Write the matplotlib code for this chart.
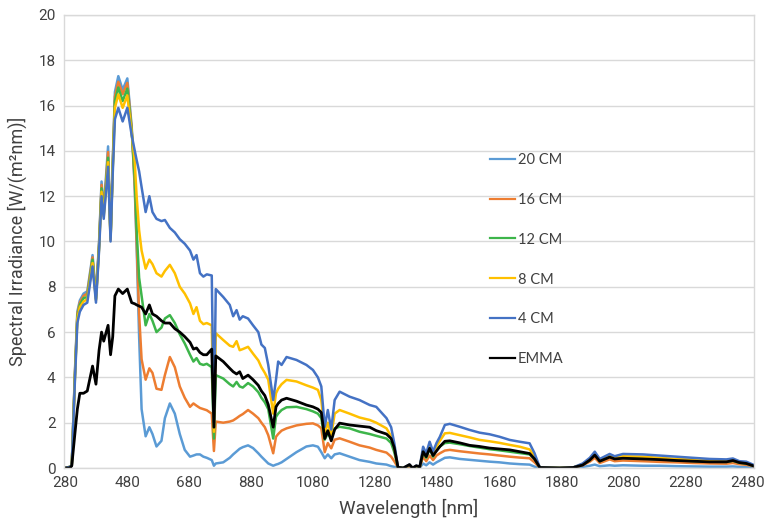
import matplotlib
matplotlib.use("Agg")
import matplotlib.pyplot as plt
from matplotlib import font_manager as fm

wavelength = [280, 296, 302, 312, 320, 328, 340, 352, 369, 380,
              390, 398, 405, 419, 427, 434, 441, 452, 466, 481,
              495, 505, 511, 519, 527, 540, 552, 562, 575, 591,
              602, 618, 634, 650, 666, 683, 694, 704, 715, 726,
              737, 753, 760, 766, 790, 811, 822, 833, 843, 853,
              870, 886, 903, 913, 924, 935, 951, 960, 967, 978,
              994, 1026, 1058, 1079, 1095, 1106, 1117, 1127, 1138, 1149,
              1165, 1197, 1229, 1262, 1283, 1316, 1331, 1341, 1353, 1370,
              1390, 1400, 1412, 1423, 1434, 1444, 1455, 1466, 1477, 1488,
              1504, 1520, 1552, 1584, 1616, 1648, 1680, 1713, 1745, 1777,
              1793, 1810, 1874, 1917, 1948, 1971, 1987, 2003, 2035, 2051,
              2078, 2142, 2196, 2250, 2303, 2357, 2411, 2432, 2453, 2475,
              2497]

cm20 = [0, 0.05, 0.1, 4.2, 6.9, 7.4, 7.7, 7.8, 9.4, 7.6,
        10.0, 12.65, 11.4, 14.2, 10.2, 13.5, 16.6, 17.3, 16.7, 17.2,
        15.1, 12.3, 9.8, 5.8, 2.6, 1.4, 1.8, 1.5, 0.95, 1.2,
        2.2, 2.85, 2.4, 1.5, 0.8, 0.5, 0.55, 0.6, 0.6, 0.5,
        0.45, 0.35, 0.1, 0.2, 0.25, 0.45, 0.6, 0.73, 0.85, 0.92,
        1.0, 0.88, 0.65, 0.5, 0.35, 0.2, 0.1, 0.15, 0.18, 0.25,
        0.4, 0.7, 0.95, 1.0, 0.94, 0.7, 0.43, 0.6, 0.43, 0.6,
        0.65, 0.5, 0.35, 0.27, 0.2, 0.15, 0.08, 0.05, 0.01, 0.0,
        0.05, 0.0, 0.03, 0.01, 0.2, 0.12, 0.25, 0.15, 0.25, 0.33,
        0.45, 0.47, 0.4, 0.36, 0.32, 0.28, 0.25, 0.2, 0.17, 0.15,
        0.06, 0.0, 0.0, 0.0, 0.05, 0.1, 0.15, 0.08, 0.12, 0.1,
        0.12, 0.1, 0.1, 0.08, 0.07, 0.06, 0.06, 0.07, 0.05, 0.04,
        0.03]

cm16 = [0, 0.05, 0.1, 4.1, 6.8, 7.3, 7.6, 7.7, 9.3, 7.5,
        9.9, 12.5, 11.3, 13.95, 10.15, 13.4, 16.4, 17.05, 16.5, 17.0,
        15.0, 12.5, 10.0, 6.8, 4.8, 3.9, 4.4, 4.2, 3.5, 3.45,
        4.1, 4.9, 4.45, 3.6, 3.1, 2.7, 2.85, 2.75, 2.65, 2.6,
        2.55, 2.4, 0.75, 2.05, 2.0, 2.05, 2.1, 2.2, 2.3, 2.38,
        2.56, 2.4, 2.2, 2.0, 1.8, 1.45, 0.65, 1.38, 1.5, 1.65,
        1.75, 1.88, 1.95, 1.97, 1.88, 1.75, 0.7, 1.1, 0.87, 1.25,
        1.31, 1.16, 1.0, 0.9, 0.8, 0.68, 0.5, 0.3, 0.02, 0.0,
        0.08, 0.0, 0.05, 0.02, 0.5, 0.3, 0.55, 0.35, 0.55, 0.65,
        0.77, 0.8, 0.74, 0.69, 0.64, 0.6, 0.55, 0.5, 0.46, 0.43,
        0.25, 0.01, 0.0, 0.01, 0.12, 0.28, 0.45, 0.22, 0.38, 0.3,
        0.33, 0.3, 0.27, 0.25, 0.22, 0.2, 0.19, 0.22, 0.17, 0.14,
        0.08]

cm12 = [0, 0.05, 0.1, 4.0, 6.7, 7.2, 7.5, 7.55, 9.2, 7.45,
        9.8, 12.35, 11.2, 13.7, 10.1, 13.3, 16.2, 16.8, 16.2, 16.75,
        14.9, 12.8, 10.5, 8.4, 7.6, 6.3, 6.8, 6.5, 6.0, 6.2,
        6.6, 6.75, 6.4, 5.9, 5.5, 5.0, 4.7, 4.85, 4.6, 4.55,
        4.6, 4.45, 1.3, 4.1, 3.95, 3.7, 3.6, 3.8, 3.6, 3.55,
        3.75, 3.6, 3.35, 3.1, 2.9, 2.6, 1.3, 2.26, 2.4, 2.56,
        2.68, 2.7, 2.6, 2.5, 2.4, 2.2, 1.25, 1.53, 1.3, 1.75,
        1.82, 1.75, 1.6, 1.5, 1.42, 1.3, 1.1, 0.7, 0.03, 0.0,
        0.12, 0.0, 0.07, 0.03, 0.7, 0.45, 0.85, 0.5, 0.8, 0.95,
        1.1, 1.12, 1.05, 0.97, 0.9, 0.83, 0.78, 0.72, 0.66, 0.6,
        0.4, 0.02, 0.0, 0.02, 0.15, 0.35, 0.6, 0.3, 0.5, 0.42,
        0.45, 0.42, 0.38, 0.34, 0.31, 0.28, 0.27, 0.32, 0.23, 0.2,
        0.1]

cm8 = [0, 0.05, 0.1, 3.9, 6.6, 7.1, 7.35, 7.45, 9.05, 7.4,
       9.7, 12.2, 11.1, 13.5, 10.05, 13.2, 15.9, 16.5, 15.9, 16.45,
       14.8, 13.5, 12.0, 10.5, 9.6, 8.8, 9.2, 9.0, 8.6, 8.45,
       8.7, 8.97, 8.6, 8.0, 7.7, 7.27, 6.8, 7.1, 6.5, 6.35,
       6.4, 6.3, 1.6, 5.95, 5.65, 5.4, 5.35, 5.6, 5.2, 5.25,
       5.35, 5.05, 4.75, 4.45, 4.2, 3.9, 2.4, 3.3, 3.5, 3.7,
       3.89, 3.82, 3.65, 3.55, 3.45, 3.0, 1.53, 2.0, 1.45, 2.4,
       2.56, 2.4, 2.23, 2.12, 2.0, 1.75, 1.4, 0.9, 0.03, 0.0,
       0.13, 0.0, 0.08, 0.04, 0.8, 0.55, 1.0, 0.62, 0.95, 1.2,
       1.53, 1.55, 1.45, 1.35, 1.24, 1.18, 1.11, 1.02, 0.94, 0.82,
       0.5, 0.02, 0.0, 0.02, 0.17, 0.4, 0.65, 0.35, 0.55, 0.47,
       0.52, 0.5, 0.45, 0.4, 0.37, 0.33, 0.31, 0.36, 0.26, 0.23,
       0.12]

cm4 = [0, 0.05, 0.1, 3.8, 6.4, 6.9, 7.2, 7.3, 8.9, 7.3,
       9.6, 12.0, 11.0, 13.3, 10.0, 13.0, 15.4, 15.9, 15.3, 15.9,
       14.7, 14.0, 13.6, 13.1, 12.4, 11.3, 12.0, 11.3, 11.0, 10.9,
       10.95, 10.6, 10.4, 10.1, 9.9, 9.6, 9.2, 9.4, 8.6, 8.45,
       8.55, 8.5, 2.0, 7.9, 7.55, 7.2, 6.7, 6.97, 6.55, 6.7,
       6.6, 6.3, 6.0, 5.45, 5.3, 4.55, 3.0, 3.9, 4.7, 4.55,
       4.9, 4.77, 4.55, 4.33, 4.0, 3.6, 1.82, 2.56, 1.7, 3.0,
       3.37, 3.15, 3.0, 2.78, 2.7, 2.2, 1.8, 1.1, 0.03, 0.0,
       0.15, 0.0, 0.1, 0.05, 0.94, 0.65, 1.16, 0.73, 1.1, 1.38,
       1.9, 1.95, 1.82, 1.68, 1.56, 1.49, 1.38, 1.24, 1.16, 1.09,
       0.65, 0.02, 0.0, 0.02, 0.2, 0.45, 0.72, 0.4, 0.62, 0.52,
       0.62, 0.6, 0.55, 0.5, 0.45, 0.4, 0.38, 0.42, 0.3, 0.28,
       0.15]

emma = [0, 0.0, 0.1, 1.5, 2.6, 3.3, 3.3, 3.4, 4.5, 3.7,
        5.2, 6.0, 5.6, 6.3, 5.0, 5.8, 7.6, 7.9, 7.7, 7.9,
        7.3, 7.25, 7.2, 7.15, 7.1, 6.8, 7.2, 6.8, 6.7, 6.5,
        6.4, 6.4, 6.15, 6.0, 5.8, 5.55, 5.25, 5.3, 5.1, 5.0,
        5.0, 5.25, 1.8, 4.95, 4.7, 4.4, 4.25, 4.15, 4.25, 3.95,
        4.1, 3.9, 3.65, 3.4, 3.2, 2.8, 1.8, 2.7, 2.85, 3.0,
        3.08, 2.95, 2.78, 2.7, 2.6, 2.45, 1.3, 1.65, 1.2, 1.7,
        1.98, 1.9, 1.85, 1.8, 1.65, 1.5, 1.3, 0.9, 0.03, 0.0,
        0.15, 0.0, 0.1, 0.05, 0.72, 0.5, 0.87, 0.55, 0.75, 0.95,
        1.18, 1.2, 1.11, 1.0, 0.95, 0.88, 0.84, 0.8, 0.72, 0.64,
        0.4, 0.02, 0.0, 0.02, 0.13, 0.35, 0.57, 0.3, 0.48, 0.4,
        0.43, 0.4, 0.37, 0.33, 0.3, 0.27, 0.27, 0.33, 0.24, 0.2,
        0.1]

series_labels = ["20 CM", "16 CM", "12 CM", "8 CM", "4 CM", "EMMA"]
series_colors = ["#5B9BD5", "#ED7D31", "#3DB54A", "#FFC000", "#4472C4", "#000000"]
x_ticks = [280, 480, 680, 880, 1080, 1280, 1480, 1680, 1880, 2080, 2280, 2480]
y_ticks = [0, 2, 4, 6, 8, 10, 12, 14, 16, 18, 20]

names = {f.name for f in fm.fontManager.ttflist}
narrow = "Roboto" if "Roboto" in names else "DejaVu Sans"
legend_font = "Lato" if "Lato" in names else "DejaVu Sans"
axis_family = [narrow, "DejaVu Sans"]

fig = plt.figure(figsize=(7.77, 5.26), dpi=100)
ax = fig.add_axes([64 / 777, 1 - 468 / 526, 690 / 777, 453 / 526])

all_series = [cm20, cm16, cm12, cm8, cm4, emma]
for vals, lab, col in zip(all_series, series_labels, series_colors):
    lw = 2.0 if lab == "EMMA" else 1.8
    ax.plot(wavelength, vals, color=col, lw=lw, label=lab, solid_joinstyle="round")

ax.set_xlim(277, 2500)
ax.set_ylim(0, 20)
ax.set_xticks(x_ticks)
ax.set_yticks(y_ticks)
ax.grid(axis="y", color="#D9D9D9", lw=1.0)
ax.set_axisbelow(True)
for s in ax.spines.values():
    s.set_color("#D9D9D9")
    s.set_linewidth(1.0)
ax.tick_params(axis="both", length=0, labelsize=11, labelcolor="#404040", pad=6)
for t in ax.get_xticklabels() + ax.get_yticklabels():
    t.set_fontfamily(axis_family)

ax.set_xlabel("Wavelength [nm]", fontsize=13.5, color="#404040", family=axis_family, labelpad=6)
ax.set_ylabel("Spectral Irradiance [W/(m\u00b2nm)]", fontsize=13, color="#404040",
              family=axis_family, labelpad=8)

leg = ax.legend(loc="upper left", bbox_to_anchor=(0.609, 0.709), frameon=False,
                prop={"family": legend_font, "size": 10.5}, handlelength=1.7,
                handletextpad=0.2, labelspacing=1.78, borderaxespad=0)
for line in leg.get_lines():
    line.set_linewidth(1.6)
for t in leg.get_texts():
    t.set_color("#404040")

fig.savefig("out.png", dpi=100)
